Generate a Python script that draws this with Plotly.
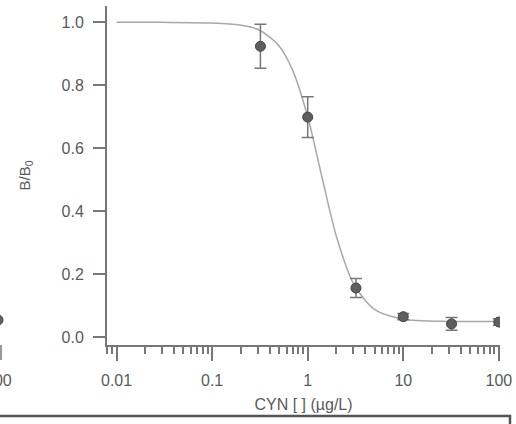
import plotly.graph_objects as go

# Data
conc = [0.32, 1.0, 3.2, 10, 32, 100]
b_b0 = [0.924, 0.699, 0.156, 0.065, 0.042, 0.048]
b_b0_err = [0.07, 0.065, 0.03, 0.01, 0.02, 0.01]

# fitted curve
curve_x = [0.01, 0.03, 0.1, 0.2, 0.3, 0.5, 0.7, 1.0, 1.4, 2.0, 3.0, 5.0, 10, 30, 100]
curve_y = [1.0, 1.0, 0.998, 0.991, 0.978, 0.926, 0.846, 0.70, 0.512, 0.319, 0.171, 0.088, 0.057, 0.050, 0.050]

x_tickvals = [0.01, 0.1, 1, 10, 100]
x_ticktext = ["0.01", "0.1", "1", "10", "100"]
y_tickvals = [0.0, 0.2, 0.4, 0.6, 0.8, 1.0]
y_ticktext = ["0.0", "0.2", "0.4", "0.6", "0.8", "1.0"]

TXT = "#5a5a5a"
AX = "#777777"
FONT = "Liberation Sans, Arial, sans-serif"

fig = go.Figure()
fig.add_trace(go.Scatter(
    x=curve_x, y=curve_y, mode="lines",
    line=dict(color="#a8a8a8", width=1.5, shape="spline", smoothing=0.8),
    showlegend=False, hoverinfo="skip"))
fig.add_trace(go.Scatter(
    x=conc, y=b_b0, mode="markers",
    marker=dict(size=10, color="#5e5e5e", line=dict(color="#444444", width=1)),
    error_y=dict(type="data", array=b_b0_err, visible=True, color="#777777",
                 thickness=1.5, width=6),
    showlegend=False))

fig.update_layout(
    width=516, height=424,
    margin=dict(l=107, r=16, t=6, b=79, autoexpand=False),
    paper_bgcolor="white", plot_bgcolor="white",
    font=dict(family=FONT, size=16, color=TXT),
    xaxis=dict(
        type="log", range=[-2.1, 2.012], automargin=False,
        tickvals=x_tickvals, ticktext=x_ticktext,
        ticks="outside", ticklen=14, tickwidth=1.5, tickcolor=AX,
        ticklabelstandoff=6,
        minor=dict(ticks="outside", ticklen=7, tickwidth=1.5, tickcolor=AX,
                   dtick="D1", showgrid=False),
        showline=True, linecolor=AX, linewidth=2,
        showgrid=False, zeroline=False,
        title=dict(text="CYN [ ] (µg/L)", font=dict(size=16, color=TXT), standoff=11),
    ),
    yaxis=dict(
        range=[-0.025, 1.052], automargin=False,
        tickvals=y_tickvals, ticktext=y_ticktext,
        ticks="outside", ticklen=12, tickwidth=1.5, tickcolor=AX,
        ticklabelstandoff=6,
        showline=True, linecolor=AX, linewidth=2,
        showgrid=False, zeroline=False,
        title=dict(text="B/B<sub>0</sub>", font=dict(size=15, color=TXT), standoff=27),
    ),
)

# fragments of neighbouring panels visible at the crop edges
fig.add_shape(type="circle", xref="paper", yref="paper",
              x0=(-7 - 107) / 393, x1=(3 - 107) / 393,
              y0=(345 - 325) / 339, y1=(345 - 315) / 339,
              fillcolor="#5e5e5e", line=dict(color="#444444", width=1))
fig.add_shape(type="line", xref="paper", yref="paper",
              x0=(1 - 107) / 393, x1=(1 - 107) / 393,
              y0=(345 - 345) / 339, y1=(345 - 360) / 339,
              line=dict(color=AX, width=1.5))
fig.add_annotation(text="100", xref="paper", yref="paper",
                   x=(14 - 107) / 393, y=(345 - 380) / 339,
                   xanchor="right", yanchor="middle", showarrow=False,
                   font=dict(size=16, color=TXT))
fig.add_shape(type="rect", xref="paper", yref="paper",
              x0=(-20 - 107) / 393, x1=(510 - 107) / 393,
              y0=(345 - 440) / 339, y1=(345 - 416) / 339,
              line=dict(color="#555555", width=2.5), fillcolor="rgba(0,0,0,0)")

fig.write_html("out.html",
               config={"displayModeBar": False},
               post_script="document.body.style.margin='0px';document.body.style.overflow='hidden';")
